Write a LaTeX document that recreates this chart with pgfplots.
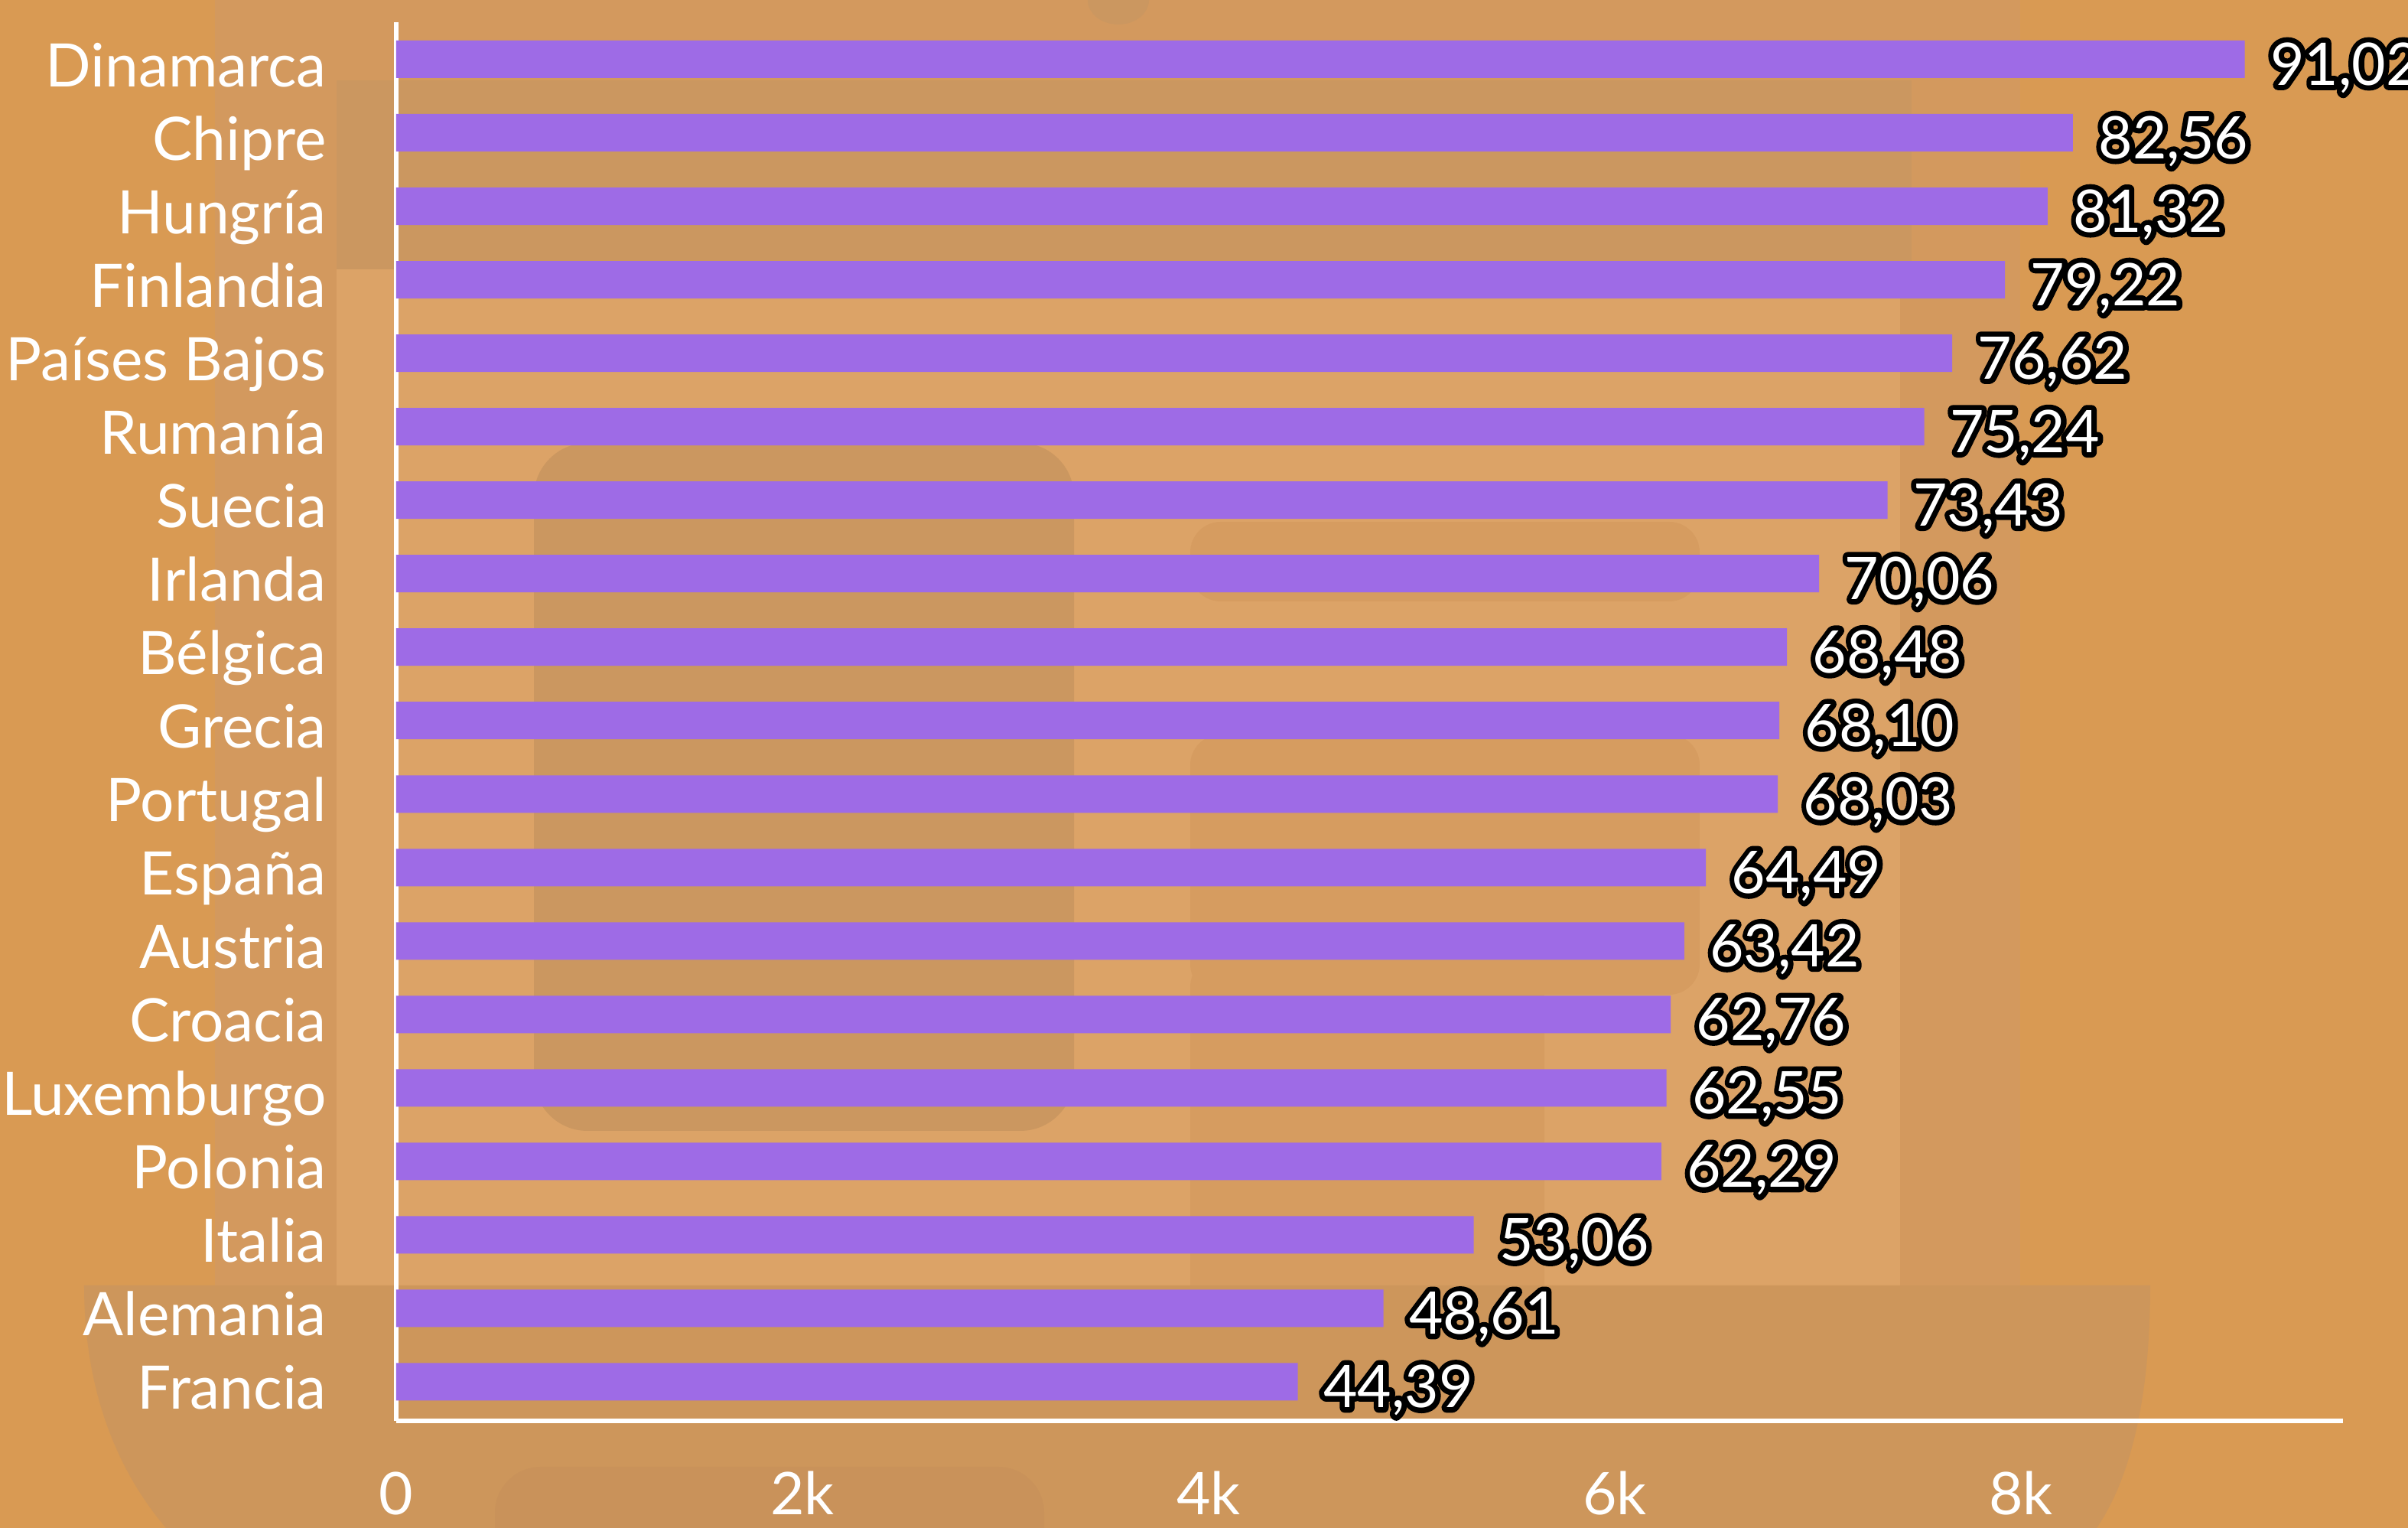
\documentclass[border=0pt]{standalone}
\usepackage{pgfplots}
\pgfplotsset{compat=1.18}
\usepackage{pgfplotstable}
\usepackage{fontspec}
\setmainfont{Lato}
\definecolor{bgbase}{RGB}{217,154,83}
\definecolor{bgmed}{RGB}{211,153,94}
\definecolor{bglight}{RGB}{220,163,103}
\definecolor{bgdark}{RGB}{203,151,96}
\definecolor{bgshape}{RGB}{214,156,96}
\definecolor{bgbottom}{RGB}{205,150,91}
\definecolor{bgbottom2}{RGB}{201,146,90}
\definecolor{barcol}{RGB}{158,107,230}
% white text with a black outline: a stroked black copy under the white text
\newcommand\outlined[1]{\rlap{\color{black}\special{pdf:literal direct 2 Tr 3.4 w 1 j}#1\special{pdf:literal direct 0 Tr}}#1}

\pgfplotstableread{
pos val lab
18 9102 91,02
17 8256 82,56
16 8132 81,32
15 7922 79,22
14 7662 76,62
13 7524 75,24
12 7343 73,43
11 7006 70,06
10 6848 68,48
9 6810 68,10
8 6803 68,03
7 6449 64,49
6 6342 63,42
5 6276 62,76
4 6255 62,55
3 6229 62,29
2 5306 53,06
1 4861 48,61
0 4439 44,39
}\datatable

\begin{document}
\begin{tikzpicture}
\useasboundingbox (-129.5pt,-35pt) rectangle (657.5pt,464.25pt);
\clip (-129.5pt,-35pt) rectangle (657.5pt,464.25pt);
% decorative background
\fill[bgbase] (-129.5pt,-35pt) rectangle (657.5pt,464.25pt);
\fill[bgmed] (-59.25pt,44.25pt) rectangle (530.75pt,464.25pt);
\fill[bglight] (-19.5pt,44.25pt) rectangle (491.5pt,376.25pt);
\fill[bgdark] (-19.5pt,376.25pt) rectangle (495.25pt,438pt);
\fill[bgdark, rounded corners=17.5pt] (45pt,94.75pt) rectangle (221.5pt,319.5pt);
\fill[bgshape, rounded corners=10pt] (259.5pt,267.75pt) rectangle (426pt,293.75pt);
\fill[bgshape, rounded corners=10pt] (259.5pt,139.25pt) rectangle (426pt,224.25pt);
\fill[bgshape, rounded corners=10pt] (259.5pt,30pt) rectangle (375.25pt,151.75pt);
\fill[bgbottom] (-102pt,44.25pt) -- (573.25pt,44.25pt) .. controls (573.25pt,5pt) and (566pt,-20pt) .. (555.75pt,-35pt) -- (-75.25pt,-35pt) .. controls (-88pt,-20pt) and (-102pt,5pt) .. cycle;
\fill[bgbottom2, rounded corners=15pt] (32.25pt,-50pt) rectangle (211.75pt,-15pt);
\fill[bgdark] (236pt,464.25pt) ellipse (10pt and 8pt);
\begin{axis}[
  at={(0,0)}, anchor=south west,
  scale only axis,
  width=636.25pt, height=457pt,
  xbar, bar width=12.25pt, bar shift=0pt,
  xmin=0, xmax=9586,
  ymin=-0.531, ymax=18.505,
  axis x line=bottom, axis y line=left,
  axis line style={white, line width=1.5pt, -},
  major tick length=0pt,
  xtick={0,2000,4000,6000,8000},
  xticklabels={0,2k,4k,6k,8k},
  ytick={0,...,18},
  yticklabels={Francia,Alemania,Italia,Polonia,Luxemburgo,Croacia,Austria,España,Portugal,Grecia,Bélgica,Irlanda,Suecia,Rumanía,Países Bajos,Finlandia,Hungría,Chipre,Dinamarca},
  xticklabel style={font=\fontsize{19.2}{22}\selectfont, text=white, anchor=base, inner sep=0pt, yshift=-30.75pt},
  yticklabel style={font=\fontsize{19.6}{22}\selectfont, text=white, anchor=base east, inner sep=0pt, xshift=-22.6pt, yshift=-8.9pt},
  nodes near coords={\outlined{\pgfplotspointmeta}},
  point meta=explicit symbolic,
  every node near coord/.append style={font=\fontsize{19.2}{22}\selectfont, text=white, anchor=base west, inner sep=0pt, xshift=8.2pt, yshift=-8.4pt},
  clip=false,
]
\addplot[draw=none, fill=barcol] table[x=val, y=pos, meta=lab] {\datatable};
\end{axis}
\end{tikzpicture}
\end{document}
